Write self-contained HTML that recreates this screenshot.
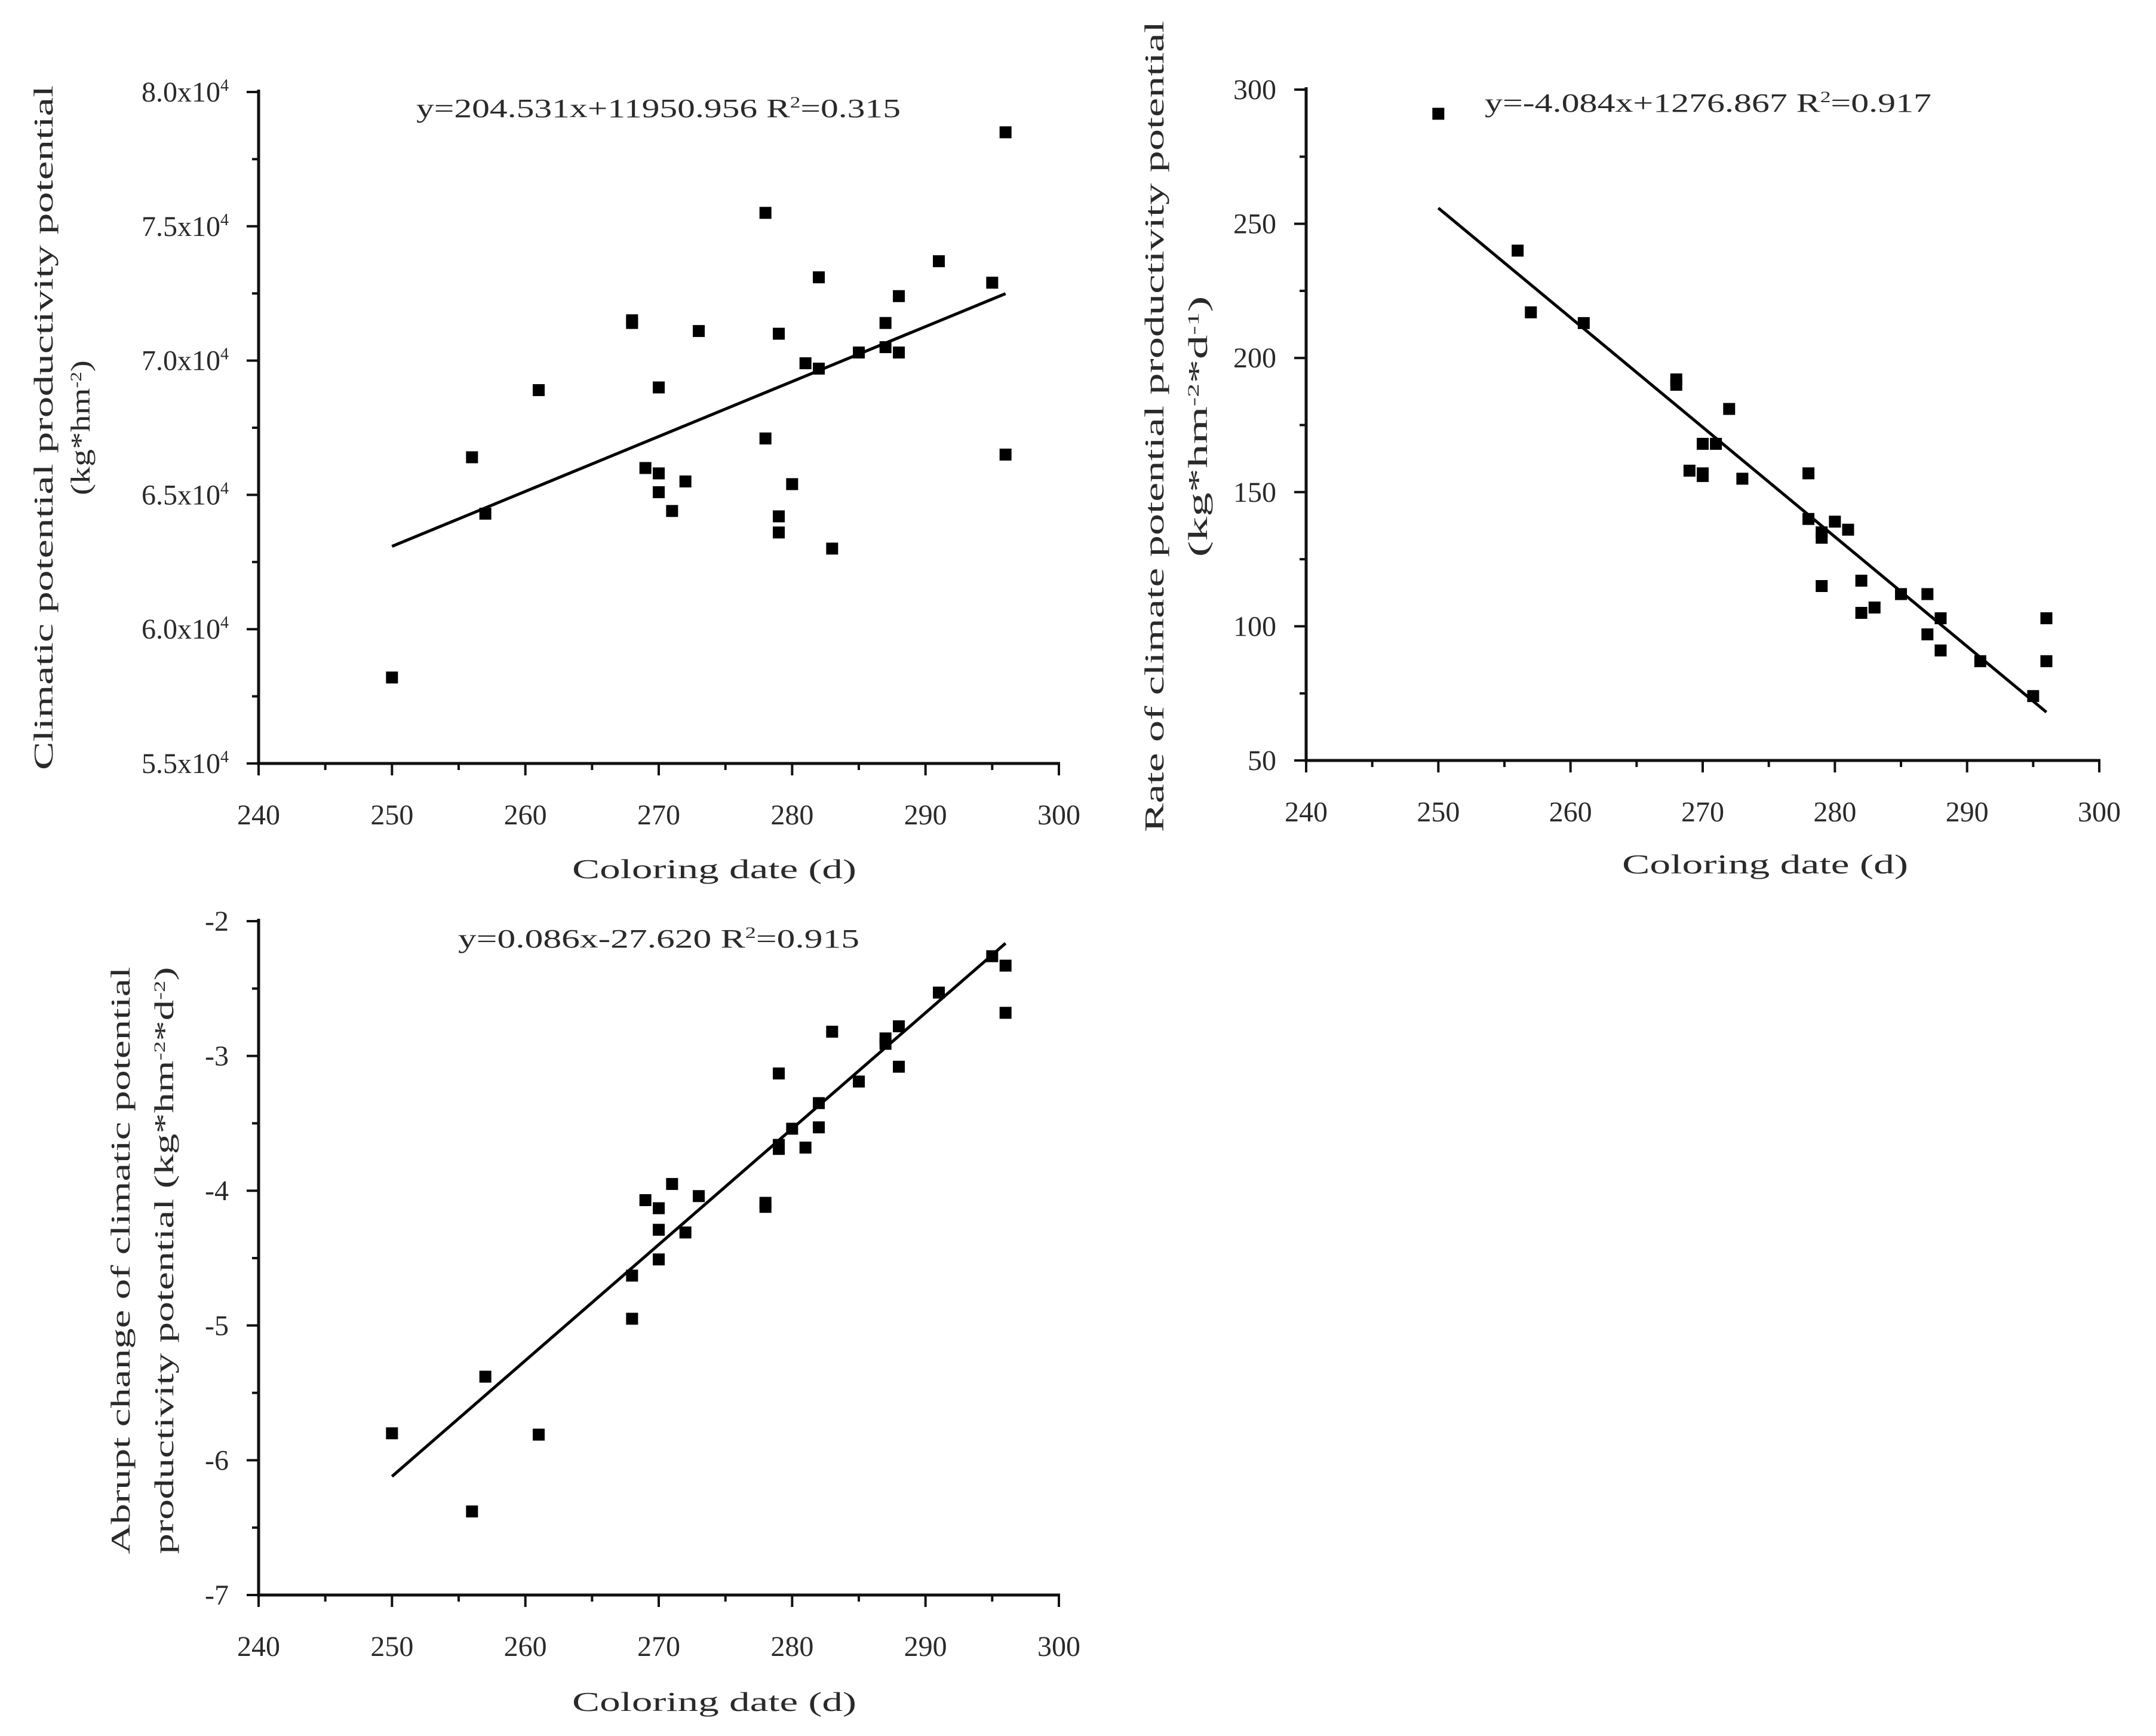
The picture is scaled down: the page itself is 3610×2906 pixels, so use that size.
<!DOCTYPE html>
<html><head><meta charset="utf-8"><style>
html,body{margin:0;padding:0;background:#fff;}
svg{display:block;}
text{font-family:"Liberation Serif",serif;fill:#2a2a2a;}
</style></head><body>
<svg id="fig" width="3610" height="2906" viewBox="0 0 3610 2906" xmlns="http://www.w3.org/2000/svg"></svg>
<script>
const NS="http://www.w3.org/2000/svg";
const dates=[250,256,257,261,268,268,269,270,270,270,271,272,273,278,278,279,279,279,280,281,282,282,283,285,287,287,288,288,291,295,296,296];
const potential=[5.82,6.64,6.43,6.89,7.15,7.14,6.60,6.90,6.58,6.51,6.44,6.55,7.11,7.55,6.71,7.10,6.42,6.36,6.54,6.99,7.31,6.97,6.30,7.03,7.14,7.05,7.24,7.03,7.37,7.29,7.85,6.65];
const rateDates=[250,256,257,261,268,268,269,270,270,270,271,272,273,278,278,279,279,279,280,281,282,282,283,285,287,287,288,288,291,295,296,296];
const rate=[291,240,217,213,192,190,158,168,157,156,168,181,155,157,140,135,133,115,139,136,117,105,107,112,112,97,103,91,87,74,103,87];
const abruptDates=[250,256,257,261,268,268,269,270,270,270,271,272,273,278,278,279,279,279,280,281,282,282,283,285,287,287,288,288,291,295,296,296];
const abrupt=[-5.80,-6.38,-5.38,-5.81,-4.63,-4.95,-4.07,-4.13,-4.29,-4.51,-3.95,-4.31,-4.04,-4.09,-4.12,-3.13,-3.66,-3.69,-3.54,-3.68,-3.35,-3.53,-2.82,-3.19,-2.87,-2.91,-2.78,-3.08,-2.53,-2.26,-2.33,-2.68];
const xTicks=[240,250,260,270,280,290,300];
const yTicks1=[5.5,6.0,6.5,7.0,7.5,8.0];
const yTicks2=[50,100,150,200,250,300];
const yTicks3=[-7,-6,-5,-4,-3,-2];
const fit1=[204.531,11950.956];
const fit2=[-4.084,1276.867];
const fit3=[0.086,-27.620];
const fitRange=[250,296];

const svg=document.getElementById('fig');
function el(tag,attrs,parent){const e=document.createElementNS(NS,tag);for(const k in attrs)e.setAttribute(k,attrs[k]);(parent||svg).appendChild(e);return e;}

function panel(o){
  const g=el('g',{});
  
  
  const sx=v=>o.x0+(v-240)/60*(o.x1-o.x0);
  const sy=v=>o.yb-(v-o.ymin)/(o.ymax-o.ymin)*(o.yb-o.yt);
  const ax=el('path',{d:`M${o.x0} ${o.yt-4}V${o.yb}H${o.x1+2}`,stroke:'#111','stroke-width':5,fill:'none'},g);
  
  
  for(let v=240;v<=300;v+=5){
    const major=v%10===0;
    el('line',{x1:sx(v),x2:sx(v),y1:o.yb,y2:o.yb+(major?20:11),stroke:'#111','stroke-width':4},g);
  }
  xTicks.forEach(v=>{
    const t=el('text',{x:sx(v),y:o.yb+102,'text-anchor':'middle','font-size':48},g);
    t.textContent=v;
    
    
  });
  const yt=o.yTicks;const step=yt[1]-yt[0];
  for(let i=0;i<yt.length;i++){
    el('line',{x1:o.x0-20,x2:o.x0,y1:sy(yt[i]),y2:sy(yt[i]),stroke:'#111','stroke-width':4},g);
    if(i<yt.length-1){const m=yt[i]+step/2;el('line',{x1:o.x0-11,x2:o.x0,y1:sy(m),y2:sy(m),stroke:'#111','stroke-width':4},g);}
    const t=el('text',{x:o.x0-50,y:sy(yt[i])+16,'text-anchor':'end','font-size':48},g);
    
    
    if(o.sci){t.textContent=yt[i].toFixed(1)+'x10';const s=el('tspan',{dy:-18,'font-size':28},t);s.textContent='4';}
    else t.textContent=yt[i];
  }
  const f=x=>(o.fit[0]*x+o.fit[1])/o.div;
  const ln=el('line',{x1:sx(fitRange[0]),y1:sy(f(fitRange[0])),x2:sx(fitRange[1]),y2:sy(f(fitRange[1])),stroke:'#000','stroke-width':5},g);
  
  
  o.xs.forEach((x,i)=>{
    const r=el('rect',{x:sx(x)-10,y:sy(o.ys[i])-10,width:20,height:20,fill:'#000'},g);
    
    
  });
  const eq=el('text',{x:o.eq[0],y:o.eq[1],'font-size':44,textLength:o.eq[2],lengthAdjust:'spacingAndGlyphs'},g);
  
  
  eq.innerHTML=o.eqText;
  const xt=el('text',{x:o.xt[0],y:o.xt[1],'font-size':46,textLength:o.xt[2],lengthAdjust:'spacingAndGlyphs'},g);
  xt.textContent='Coloring date (d)';
  
  
  o.yTitles.forEach(yt2=>{
    const t=el('text',{x:0,y:0,'font-size':46,'text-anchor':'middle',textLength:yt2[3],lengthAdjust:'spacingAndGlyphs',transform:`translate(${yt2[0]},${yt2[1]}) rotate(-90)`},g);
    t.innerHTML=yt2[2];
    
    
  });
}

panel({name:'panel-potential',x0:433,x1:1773,yt:154,yb:1278,ymin:5.5,ymax:8.0,yTicks:yTicks1,sci:true,xs:dates,ys:potential,fit:fit1,div:10000,
  eq:[697,196,811],eqText:'y=204.531x+11950.956 R<tspan dy="-16" font-size="26">2</tspan><tspan dy="16">=0.315</tspan>',
  xt:[958,1470,476],
  yTitles:[[88,716,'Climatic potential productivity potential',1146],[150,716,'(kg*hm<tspan dy="-14" font-size="26">-2</tspan><tspan dy="14">)</tspan>',226]]});

panel({name:'panel-rate',x0:2187,x1:3515,yt:150,yb:1273,ymin:50,ymax:300,yTicks:yTicks2,sci:false,xs:rateDates,ys:rate,fit:fit2,div:1,
  eq:[2486,187,748],eqText:'y=-4.084x+1276.867 R<tspan dy="-16" font-size="26">2</tspan><tspan dy="16">=0.917</tspan>',
  xt:[2716,1462,479],
  yTitles:[[1948,714,'Rate of climate potential productivity potential',1358],[2021,714,'(kg*hm<tspan dy="-14" font-size="26">-2</tspan><tspan dy="14">*d</tspan><tspan dy="-14" font-size="26">-1</tspan><tspan dy="14">)</tspan>',437]]});

panel({name:'panel-abrupt',x0:433,x1:1773,yt:1542,yb:2670,ymin:-7,ymax:-2,yTicks:yTicks3,sci:false,xs:abruptDates,ys:abrupt,fit:fit3,div:1,
  eq:[767,1586,672],eqText:'y=0.086x-27.620 R<tspan dy="-16" font-size="26">2</tspan><tspan dy="16">=0.915</tspan>',
  xt:[958,2864,476],
  yTitles:[[217,2110,'Abrupt change of climatic potential',983],[290,2110,'productivity potential (kg*hm<tspan dy="-14" font-size="26">-2</tspan><tspan dy="14">*d</tspan><tspan dy="-14" font-size="26">-2</tspan><tspan dy="14">)</tspan>',983]]});
</script>
</body></html>
